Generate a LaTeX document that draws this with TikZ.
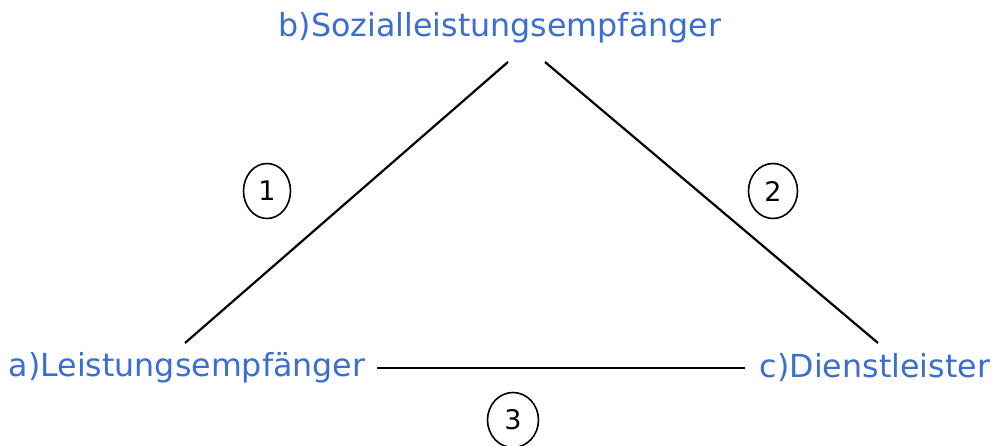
\documentclass[tikz,border=0pt]{standalone}
\usepackage{fontspec}
\setmainfont{DejaVu Sans}
\usetikzlibrary{shapes.geometric}
\definecolor{lblue}{RGB}{58,110,210}
\begin{document}
\begin{tikzpicture}[x=1pt,y=-1pt,
  lbl/.style={text=lblue,font=\fontsize{31.7}{36}\selectfont,inner sep=0pt},
  num/.style={draw,ellipse,line width=1.6pt,minimum width=47pt,minimum height=55pt,inner sep=0pt,font=\fontsize{27}{31}\selectfont},
  conn/.style={line width=2.2pt}]
\useasboundingbox (0,0) rectangle (997,446);
\node[lbl] (b) at (500,28) {b)Sozialleistungsempfänger};
\node[lbl] (a) at (187,368) {a)Leistungsempfänger};
\node[lbl] (c) at (875,368) {c)Dienstleister};
\coordinate (a1) at (185,343);
\coordinate (b1) at (508,62);
\coordinate (b2) at (545,62);
\coordinate (c2) at (878,343);
\coordinate (a3) at (377,368);
\coordinate (c3) at (745,368);
\draw[conn] (a1) -- (b1);
\draw[conn] (b2) -- (c2);
\draw[conn] (a3) -- (c3);
\node[num] (n1) at (267,191) {1};
\node[num,minimum width=49pt] (n2) at (773,191) {2};
\node[num,minimum width=51pt] (n3) at (513,420) {3};
\end{tikzpicture}
\end{document}
